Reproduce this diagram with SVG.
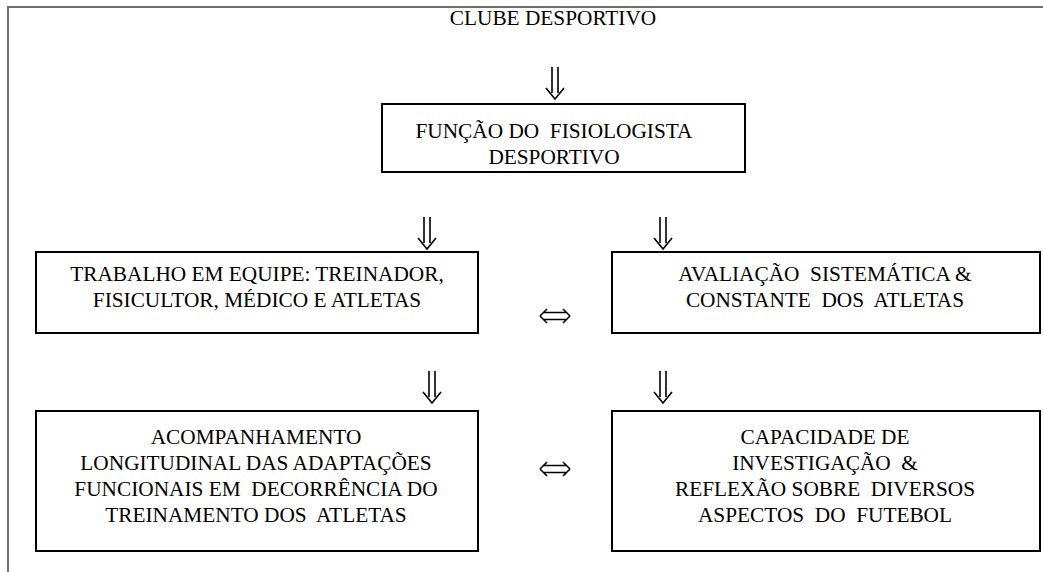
<svg xmlns="http://www.w3.org/2000/svg" width="1043" height="572" viewBox="0 0 1043 572">
<style>
.frame{fill:none;stroke:#6e6e6e;stroke-width:2}
.box{fill:#fff;stroke:#000;stroke-width:2}
.t{font-family:"Liberation Serif","Times New Roman",serif;font-size:21.3px;fill:#000;text-anchor:middle;white-space:pre}
.arr{fill:none;stroke:#000;stroke-width:1.6}
</style>
<defs>
<g id="down">
<path d="M-3,-32 V-6 M3,-32 V-6 M-9,-11 L0,0 L9,-11" class="arr"/>
</g>
<g id="lr">
<path d="M-15,0 L-8,-7 M-15,0 L-8,7 M15,0 L8,-7 M15,0 L8,7 M-11,-3.5 H11 M-11,3.5 H11" class="arr"/>
</g>
</defs>
<rect class="frame" x="8" y="7" width="1045" height="580"/>
<g id="n-clube">
<text class="t" x="553" y="25">CLUBE DESPORTIVO</text>
</g>
<g id="n-funcao">
<rect class="box" x="382" y="104" width="363" height="68"/>
<text class="t" x="554" y="138" xml:space="preserve">FUNÇÃO DO  FISIOLOGISTA</text>
<text class="t" x="554" y="164">DESPORTIVO</text>
</g>
<g id="n-trabalho">
<rect class="box" x="36" y="252" width="442" height="81"/>
<text class="t" x="257" y="281">TRABALHO EM EQUIPE: TREINADOR,</text>
<text class="t" x="257" y="307">FISICULTOR, MÉDICO E ATLETAS</text>
</g>
<g id="n-avaliacao">
<rect class="box" x="612" y="252" width="428" height="81"/>
<text class="t" x="825" y="281" xml:space="preserve">AVALIAÇÃO  SISTEMÁTICA &amp;</text>
<text class="t" x="825" y="307" xml:space="preserve">CONSTANTE  DOS  ATLETAS</text>
</g>
<g id="n-acompanhamento">
<rect class="box" x="36" y="411" width="442" height="140"/>
<text class="t" x="256" y="444">ACOMPANHAMENTO</text>
<text class="t" x="256" y="470">LONGITUDINAL DAS ADAPTAÇÕES</text>
<text class="t" x="256" y="496" xml:space="preserve">FUNCIONAIS EM  DECORRÊNCIA DO</text>
<text class="t" x="256" y="522" xml:space="preserve">TREINAMENTO DOS  ATLETAS</text>
</g>
<g id="n-capacidade">
<rect class="box" x="612" y="411" width="428" height="140"/>
<text class="t" x="825" y="444">CAPACIDADE DE</text>
<text class="t" x="825" y="470" xml:space="preserve">INVESTIGAÇÃO  &amp;</text>
<text class="t" x="825" y="496" xml:space="preserve">REFLEXÃO SOBRE  DIVERSOS</text>
<text class="t" x="825" y="522" xml:space="preserve">ASPECTOS  DO  FUTEBOL</text>
</g>
<g id="connectors">
<use href="#down" x="555" y="99"/>
<use href="#down" x="427" y="249"/>
<use href="#down" x="663" y="249"/>
<use href="#down" x="432" y="403"/>
<use href="#down" x="663" y="403"/>
<use href="#lr" x="555" y="316"/>
<use href="#lr" x="555" y="469"/>
</g>
</svg>
